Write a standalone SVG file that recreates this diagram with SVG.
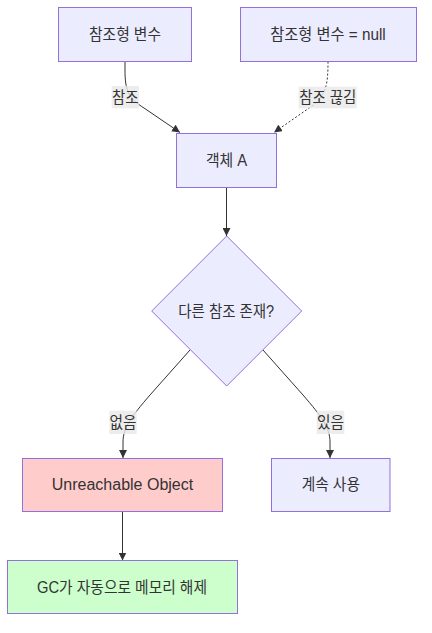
<svg xmlns="http://www.w3.org/2000/svg" width="432" height="633" viewBox="0 0 432 633">
<style>
.node rect,.node polygon{fill:#ECECFF;stroke:#9370DB;stroke-width:1}
.t{font-family:"Liberation Sans","Noto Sans CJK KR",sans-serif;font-size:16px;fill:#333;text-anchor:middle}
.edge{fill:none;stroke:#333;stroke-width:1}
.dot{stroke-dasharray:2 2}
.lbl{fill:rgba(232,232,232,0.8)}
</style>
<defs>
<marker id="arr" viewBox="0 0 10 10" refX="10" refY="5" markerUnits="userSpaceOnUse" markerWidth="8" markerHeight="8" orient="auto">
<path d="M0,0 L10,5 L0,10 z" fill="#333"/>
</marker>
</defs>
<g id="connectors">
<path class="edge" d="M125,61.5 L125,70 C125,90 128,98 144,108 L180,132.5" marker-end="url(#arr)"/>
<path class="edge dot" d="M328,61.5 C328,85 326,95 312,106 L274,132.5" marker-end="url(#arr)"/>
<path class="edge" d="M226.5,187.5 L226.5,236" marker-end="url(#arr)"/>
<path class="edge" d="M190,350 L150,395 C131,417 123,428 123,442 L123,458" marker-end="url(#arr)"/>
<path class="edge" d="M263,350 L303,395 C322,417 330,428 330,442 L330,458" marker-end="url(#arr)"/>
<path class="edge" d="M122.5,511.5 L122.5,560.5" marker-end="url(#arr)"/>
<g id="label-ref">
<rect class="lbl" x="111.7" y="86" width="27.3" height="22.3"/>
<text class="t" x="125.3" y="102.5" textLength="26.6" lengthAdjust="spacingAndGlyphs">참조</text>
</g>
<g id="label-cut">
<rect class="lbl" x="298.7" y="86.7" width="58" height="21.6"/>
<text class="t" x="327.7" y="102.8" textLength="57" lengthAdjust="spacingAndGlyphs">참조 끊김</text>
</g>
<g id="label-no">
<rect class="lbl" x="109.3" y="410.7" width="27.4" height="23.3"/>
<text class="t" x="123" y="427.8" textLength="27" lengthAdjust="spacingAndGlyphs">없음</text>
</g>
<g id="label-yes">
<rect class="lbl" x="316.7" y="410.7" width="27.6" height="23.3"/>
<text class="t" x="330.5" y="427.8" textLength="27" lengthAdjust="spacingAndGlyphs">있음</text>
</g>
</g>
<g id="n1" class="node">
<rect x="58.5" y="7.5" width="133" height="54"/>
<text class="t" x="125" y="40" textLength="72" lengthAdjust="spacingAndGlyphs">참조형 변수</text>
</g>
<g id="n2" class="node">
<rect x="240.5" y="7.5" width="176" height="54"/>
<text class="t" x="328" y="40" textLength="115.5" lengthAdjust="spacingAndGlyphs">참조형 변수 = null</text>
</g>
<g id="n3" class="node">
<rect x="176.5" y="133.5" width="100" height="54"/>
<text class="t" x="226.6" y="165.5" textLength="41.3" lengthAdjust="spacingAndGlyphs">객체 A</text>
</g>
<g id="n4" class="node">
<polygon points="226.7,236 301.7,311 226.7,386 151.7,311"/>
<text class="t" x="226.2" y="316.5" textLength="95.7" lengthAdjust="spacingAndGlyphs">다른 참조 존재?</text>
</g>
<g id="n5" class="node">
<rect x="22.5" y="458.5" width="200" height="53" style="fill:#FFCCCC"/>
<text class="t" x="122.5" y="490.3">Unreachable Object</text>
</g>
<g id="n6" class="node">
<rect x="271.5" y="458.5" width="118.5" height="53"/>
<text class="t" x="330.8" y="490.3" textLength="58.3" lengthAdjust="spacingAndGlyphs">계속 사용</text>
</g>
<g id="n7" class="node">
<rect x="7.5" y="560.5" width="230" height="53" style="fill:#CCFFCC"/>
<text class="t" x="122" y="592.5" textLength="170" lengthAdjust="spacingAndGlyphs">GC가 자동으로 메모리 해제</text>
</g>
</svg>
